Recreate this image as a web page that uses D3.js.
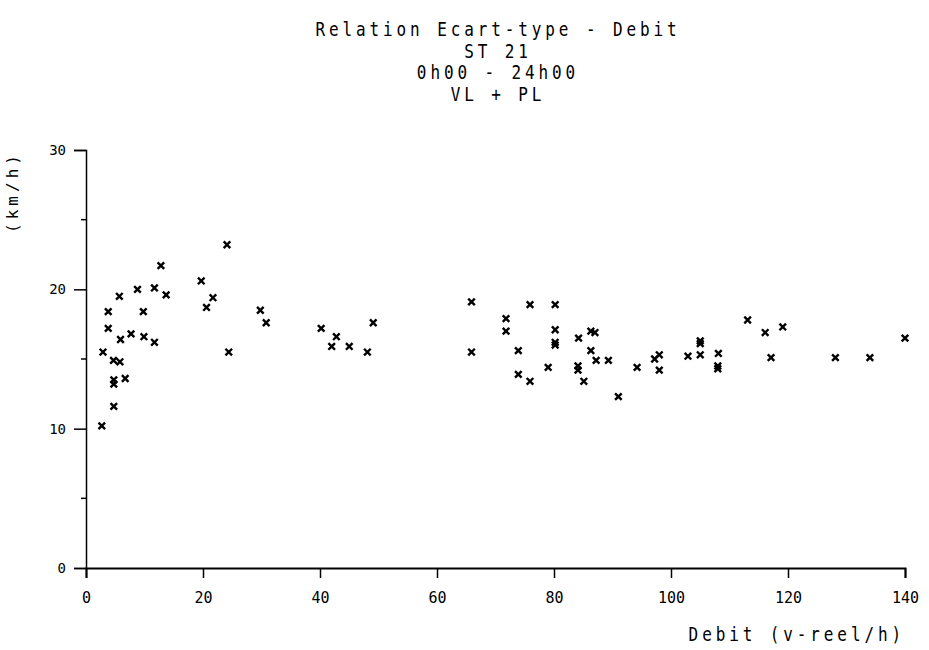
<!DOCTYPE html>
<html>
<head>
<meta charset="utf-8">
<script src="https://cdn.jsdelivr.net/npm/d3@7"></script>
<style>
  html, body { margin: 0; padding: 0; background: #fff; }
  svg text { font-family: "DejaVu Sans Mono", "Liberation Mono", monospace; fill: #000; }
</style>
</head>
<body>
<svg id="chart" width="929" height="650"></svg>
<script>
// Titles
const titleLines = ["Relation Ecart-type - Debit", "ST 21", "0h00 - 24h00", "VL + PL"];
const xAxisTitle = "Debit (v-reel/h)";
const yAxisTitle = "(km/h)";

// Axis ticks
const xTicks = [0, 20, 40, 60, 80, 100, 120, 140];
const yTicks = [0, 10, 20, 30];
const yMinorTicks = [5, 15, 25];

// Debit (x) and standard deviation of speed (y), one entry per measurement
const debit = [
  2.7, 2.9, 3.8, 3.8, 4.7, 4.75, 4.75, 4.75, 5.7, 5.8, 5.9, 6.7, 7.7, 8.8, 9.8, 9.9,
  11.7, 11.7, 12.8, 13.7, 19.7, 20.6, 21.7, 24.1, 24.4, 29.8, 30.8,
  40.2, 42.8, 42.0, 45.0, 48.1, 49.1,
  65.9, 65.9, 71.8, 71.8, 73.9, 73.9, 75.9, 75.9, 80.2, 80.2, 80.2, 80.2, 79.0,
  84.2, 84.1, 84.1, 85.1, 86.3, 87.0, 86.3, 87.2, 89.3, 91.0, 94.2, 97.2, 98.0, 98.0,
  102.9, 105.0, 105.0, 105.0, 108.1, 108.0, 108.0, 113.1, 116.1, 119.1, 117.1,
  128.1, 134.0, 140.0
];
const ecartType = [
  10.2, 15.5, 18.4, 17.2, 14.9, 13.5, 13.2, 11.6, 19.5, 14.8, 16.4, 13.6, 16.8, 20.0, 18.4, 16.6,
  20.1, 16.2, 21.7, 19.6, 20.6, 18.7, 19.4, 23.2, 15.5, 18.5, 17.6,
  17.2, 16.6, 15.9, 15.9, 15.5, 17.6,
  19.1, 15.5, 17.9, 17.0, 15.6, 13.9, 18.9, 13.4, 18.9, 17.1, 16.2, 16.0, 14.4,
  16.5, 14.5, 14.2, 13.4, 17.0, 16.9, 15.6, 14.9, 14.9, 12.3, 14.4, 15.0, 15.3, 14.2,
  15.2, 16.3, 16.1, 15.3, 15.4, 14.5, 14.3, 17.8, 16.9, 17.3, 15.1,
  15.1, 15.1, 16.5
];

const points = debit.map((d, i) => ({ x: d, y: ecartType[i] }));

const svg = d3.select("#chart");

const x = d3.scaleLinear().domain([0, 140]).range([86, 905]);
const y = d3.scaleLinear().domain([0, 30]).range([568, 150]);

// Title block: narrow, tall lettering stretched vertically
svg.append("g")
  .selectAll("text")
  .data(titleLines)
  .join("text")
  .attr("transform", (d, i) => `translate(498,${36 + i * 21.7}) scale(1,1.2)`)
  .attr("text-anchor", "middle")
  .attr("font-size", 16)
  .attr("letter-spacing", 3.9)
  .text(d => d);

// X axis
const xAxis = svg.append("g")
  .attr("transform", `translate(0,${y(0)})`)
  .call(d3.axisBottom(x).tickValues(xTicks).tickSize(10).tickPadding(14).tickFormat(d3.format("d")));
xAxis.select(".domain").attr("stroke", "#000").attr("stroke-width", 2);
xAxis.selectAll(".tick line").attr("stroke", "#000").attr("stroke-width", 1.5);
xAxis.selectAll(".tick text")
  .attr("font-size", 15)
  .attr("font-family", "DejaVu Sans Mono, monospace");

// Y axis
const yAxis = svg.append("g")
  .attr("transform", `translate(${x(0)},0)`)
  .call(d3.axisLeft(y).tickValues(yTicks).tickSize(12).tickPadding(8).tickFormat(d3.format("d")));
yAxis.select(".domain").attr("stroke", "#000").attr("stroke-width", 1.5);
yAxis.selectAll(".tick line").attr("stroke", "#000").attr("stroke-width", 1.5);
yAxis.selectAll(".tick text")
  .attr("font-size", 14)
  .attr("font-family", "DejaVu Sans Mono, monospace");

// Short minor ticks on the y axis
svg.append("g")
  .selectAll("line")
  .data(yMinorTicks)
  .join("line")
  .attr("x1", x(0) - 5)
  .attr("x2", x(0))
  .attr("y1", d => y(d))
  .attr("y2", d => y(d))
  .attr("stroke", "#000")
  .attr("stroke-width", 1.5);

// Axis titles
svg.append("text")
  .attr("transform", "translate(905,641) scale(1,1.2)")
  .attr("text-anchor", "end")
  .attr("font-size", 16)
  .attr("letter-spacing", 3.9)
  .text(xAxisTitle);

svg.append("text")
  .attr("transform", "translate(18,192) rotate(-90)")
  .attr("text-anchor", "middle")
  .attr("font-size", 16)
  .attr("letter-spacing", 4)
  .text(yAxisTitle);

// Cross markers
const s = 3.3;
svg.append("g")
  .selectAll("path")
  .data(points)
  .join("path")
  .attr("d", d => {
    const cx = x(d.x), cy = y(d.y);
    return `M${cx - s},${cy - s}L${cx + s},${cy + s}M${cx + s},${cy - s}L${cx - s},${cy + s}`;
  })
  .attr("stroke", "#000")
  .attr("stroke-width", 2.4)
  .attr("fill", "none");
</script>
</body>
</html>
